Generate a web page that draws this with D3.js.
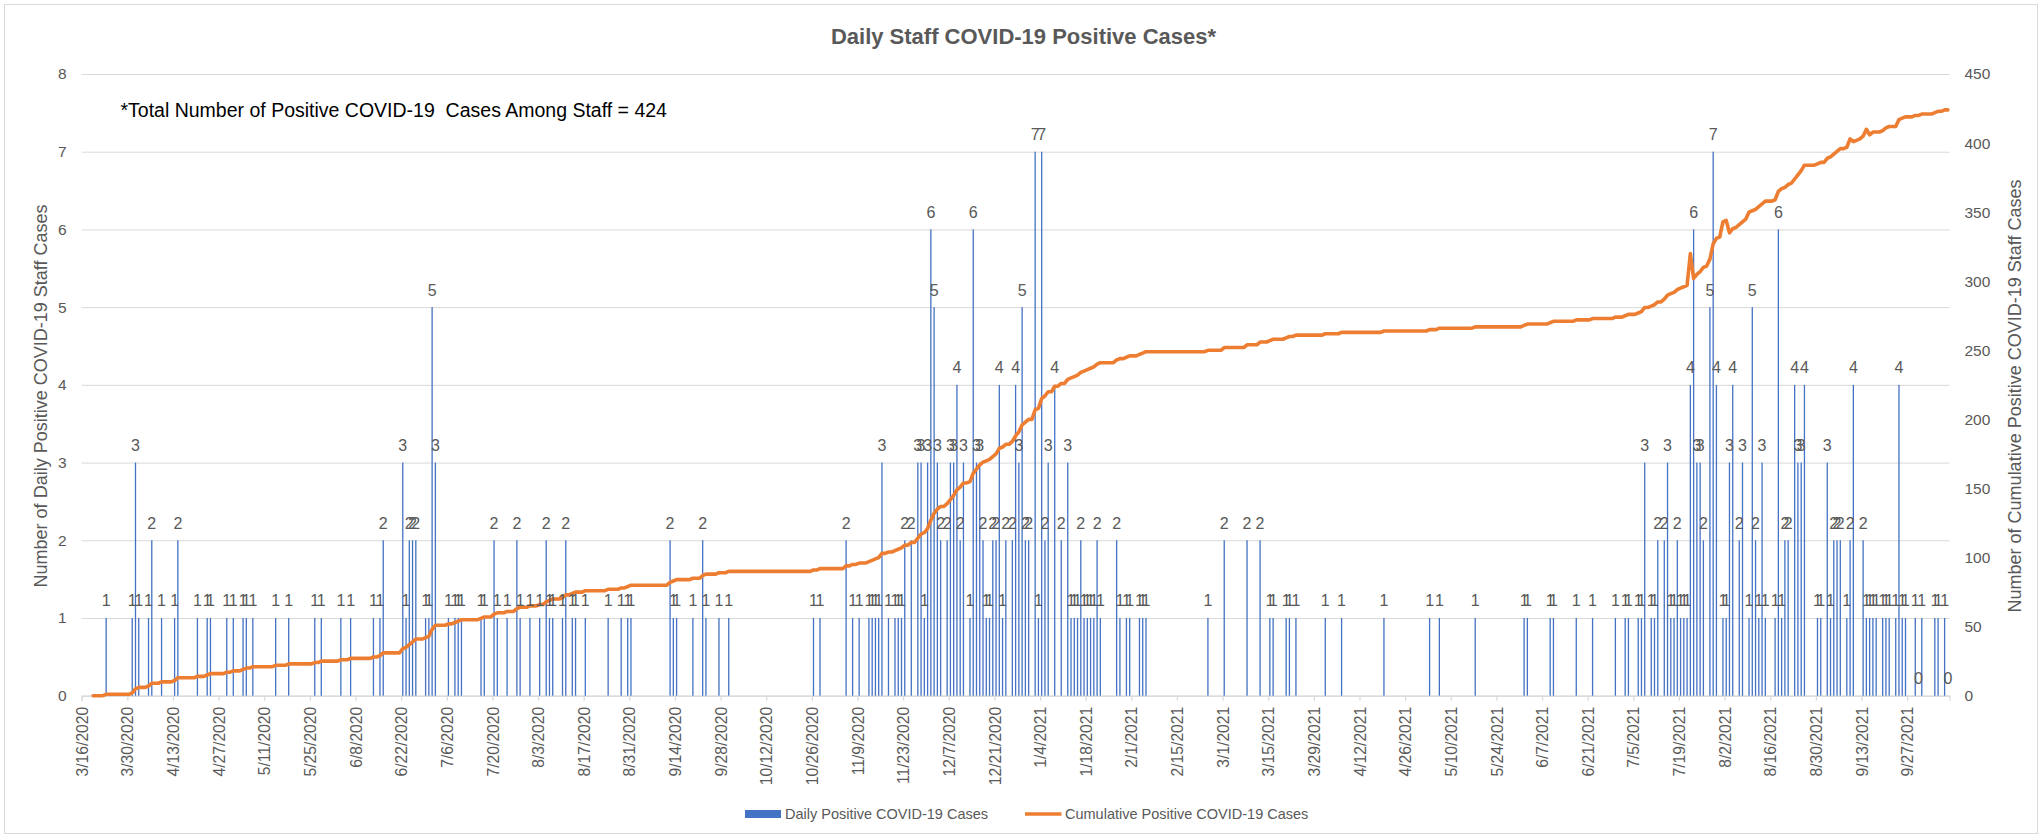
<!DOCTYPE html>
<html>
<head>
<meta charset="utf-8">
<script src="https://cdn.jsdelivr.net/npm/d3@7"></script>
<style>
html, body { margin: 0; padding: 0; background: #ffffff; }
svg { display: block; font-family: "Liberation Sans", Arial, sans-serif; }
</style>
</head>
<body>
<svg id="chart" width="2041" height="838"></svg>
<script>
// ---------------- DATA ----------------
const startDate = "3/16/2020";   // first day of the date axis
const endDate = "10/10/2021";    // last day of the date axis

const chartTitle = "Daily Staff COVID-19 Positive Cases*";
const noteText = "*Total Number of Positive COVID-19  Cases Among Staff = 424";
const leftAxisTitle = "Number of Daily Positive COVID-19 Staff Cases";
const rightAxisTitle = "Number of Cumulative Positive COVID-19 Staff Cases";
const seriesNames = ["Daily Positive COVID-19 Cases", "Cumulative Positive COVID-19 Cases"];

// day offsets (days since 3/16/2020) of the days with a reported case count
const caseDay = [
  7,15,16,17,20,21,24,28,29,35,
  38,39,44,46,49,50,52,59,63,71,
  73,79,82,89,91,92,98,99,100,101,
  102,105,106,107,108,112,114,115,116,
  122,123,126,127,130,133,134,137,140,142,
  143,144,147,148,150,151,154,161,165,167,
  168,180,181,182,187,190,191,195,198,224,
  226,234,236,238,
  241,242,243,244,245,247,249,250,251,252,
  254,256,257,258,259,260,261,262,263,265,
  266,267,268,269,270,272,273,274,275,276,
  277,278,279,280,281,282,283,285,286,287,
  288,289,290,292,293,294,295,296,298,300,
  302,303,304,305,306,307,308,309,310,311,
  312,317,318,320,321,324,325,326,
  345,350,357,361,364,365,369,370,372,381,
  386,399,413,416,427,442,443,450,451,458,
  463,470,473,474,477,478,479,481,482,483,
  485,486,487,488,489,490,491,492,493,494,
  495,496,497,499,500,501,503,504,505,506,
  508,509,511,512,513,514,515,516,
  519,520,521,522,523,525,526,527,528,532,
  533,535,536,537,538,539,541,542,543,546,
  547,548,549,550,552,553,554,556,557,558,
  559,562,563,564,568,569,571,572
];
const dailyCases = [
  1,1,3,1,1,2,1,1,2,1,
  1,1,1,1,1,1,1,1,1,1,
  1,1,1,1,1,2,3,1,2,2,
  2,1,1,5,3,1,1,1,1,
  1,1,2,1,1,2,1,1,1,2,
  1,1,1,2,1,1,1,1,1,1,
  1,2,1,1,1,2,1,1,1,1,
  1,2,1,1,
  1,1,1,1,3,1,1,1,1,2,
  2,3,3,1,3,6,5,3,2,2,
  3,3,4,2,3,1,6,3,3,2,
  1,1,2,2,4,1,2,2,4,3,
  5,2,2,7,1,7,2,3,4,2,
  3,1,1,1,2,1,1,1,1,2,
  1,2,1,1,1,1,1,1,
  1,2,2,2,1,1,1,1,1,1,
  1,1,1,1,1,1,1,1,1,1,
  1,1,1,1,1,1,3,1,1,2,
  2,3,1,1,2,1,1,1,4,6,
  3,3,2,5,7,4,1,1,3,4,
  2,3,1,5,2,1,3,1,
  1,6,1,2,2,4,3,3,4,1,
  1,3,1,2,2,2,1,2,4,2,
  1,1,1,1,1,1,1,1,4,1,
  1,1,0,1,1,1,1,0
];

// cumulative line vertices (day offset, cumulative count)
const cumDay = [
  3,6,7,14,15,16,17,19,20,21, 23,24,27,28,29,34,35,37,38,39,
  43,44,45,46,48,49,50,51,52,58, 59,62,63,70,71,72,73,78,79,81,
  82,88,89,90,91,92,97,98,99,100, 101,102,104,105,106,107,108,111,112,113,
  114,115,116,
  121,122,123,125,126,127,129,130,132,133, 134,136,137,139,140,141,142,143,144,146,
  147,148,149,150,151,153,154,160,161,164, 165,166,167,168,179,180,181,182,186,187,
  189,190,191,194,195,197,198,223,224,225, 226,233,234,235,236,237,238,
  240,241,242,243,244,245,246,247,248,249, 250,251,252,253,254,255,256,257,258,259,
  260,261,262,263,264,265,266,267,268,269, 270,271,272,273,274,275,276,277,278,279,
  280,281,282,283,284,285,286,287,288,289, 290,291,292,293,294,295,296,297,298,299,
  300,301,302,303,304,305,306,307,308,309, 310,311,312,316,317,318,319,320,321,323,
  324,325,326,
  344,345,349,350,356,357,360,361,363,364, 365,368,369,370,371,372,380,381,385,386,
  398,399,412,413,415,416,426,427,441,442, 443,449,450,451,457,458,
  462,463,469,470,472,473,474,476,477,478, 479,480,481,482,483,484,485,486,487,488,
  489,490,491,492,493,494,495,496,497,498, 499,500,501,502,503,504,505,506,507,508,
  509,510,511,512,513,514,515,516,
  518,519,520,521,522,523,524,525,526,527, 528,531,532,533,534,535,536,537,538,539,
  540,541,542,543,544,545,546,547,548,549, 550,551,552,553,554,555,556,557,558,559,
  561,562,563,564,567,568,569,570,571,572
];
const cumulativeCases = [
  0,0,1,1,2,5,6,6,7,9, 9,10,10,11,13,13,14,14,15,16,
  16,17,17,18,18,19,20,20,21,21, 22,22,23,23,24,24,25,25,26,26,
  27,27,28,28,29,31,31,34,35,37, 39,41,41,42,43,48,51,51,52,52,
  53,54,55,
  55,56,57,57,59,60,60,61,61,63, 64,64,65,65,66,66,68,69,70,70,
  71,73,73,74,75,75,76,76,77,77, 78,78,79,80,80,82,83,84,84,85,
  85,87,88,88,89,89,90,90,91,91, 92,92,94,94,95,95,96,
  96,97,98,99,100,103,103,104,104,105, 106,107,109,109,111,111,114,117,118,121,
  127,132,135,137,137,139,142,145,149,151, 154,154,155,161,164,167,169,170,171,173,
  175,179,180,182,182,184,188,191,196,198, 200,200,207,208,215,217,220,220,224,224,
  226,226,229,230,231,232,234,235,236,237, 238,240,241,241,243,244,244,245,246,246,
  247,248,249,
  249,250,250,252,252,254,254,256,256,257, 258,258,259,260,260,261,261,262,262,263,
  263,264,264,265,265,266,266,267,267,268, 269,269,270,271,271,272,
  272,273,273,274,274,275,276,276,277,278, 281,281,282,283,285,285,287,290,291,292,
  294,295,296,297,320,302,305,307,310,311, 316,327,331,332,343,344,335,338,339,341,
  343,345,350,351,352,354,356,358,
  358,359,365,367,368,370,371,374,377,380, 384,384,385,386,386,389,390,392,394,396,
  396,397,403,401,402,403,405,410,406,408, 408,408,409,411,412,412,412,417,418,419,
  419,420,420,421,421,422,423,423,424,424
];

const tickLabels = [
  "3/16/2020","3/30/2020","4/13/2020","4/27/2020","5/11/2020","5/25/2020","6/8/2020",
  "6/22/2020","7/6/2020","7/20/2020","8/3/2020","8/17/2020","8/31/2020","9/14/2020",
  "9/28/2020","10/12/2020","10/26/2020","11/9/2020","11/23/2020","12/7/2020","12/21/2020",
  "1/4/2021","1/18/2021","2/1/2021","2/15/2021","3/1/2021","3/15/2021","3/29/2021",
  "4/12/2021","4/26/2021","5/10/2021","5/24/2021","6/7/2021","6/21/2021","7/5/2021",
  "7/19/2021","8/2/2021","8/16/2021","8/30/2021","9/13/2021","9/27/2021"
];
const leftTicks = [0,1,2,3,4,5,6,7,8];
const rightTicks = [0,50,100,150,200,250,300,350,400,450];

// ---------------- LAYOUT / STYLE ----------------
const W = 2041, H = 838;
const plotL = 81.7, plotR = 1949.5, plotB = 695.7, plotT = 74;
const barColor = "#4472C4", lineColor = "#ED7D31";
const textColor = "#595959", gridColor = "#D9D9D9";

const svg = d3.select("#chart");
const parse = d3.utcParse("%m/%d/%Y");
const t0 = parse(startDate), t1 = parse(endDate);

const x = d3.scaleUtc().domain([t0, t1]).range([plotL, plotR]);
const dayW = x(d3.utcDay.offset(t0, 1)) - x(t0);
const yL = d3.scaleLinear().domain([0, 8]).range([plotB, plotT]);
const yR = d3.scaleLinear().domain([0, 450]).range([plotB, plotT]);
const dayX = d => x(d3.utcDay.offset(t0, d)) + dayW / 2;

// background + chart border
svg.append("rect").attr("x", 0).attr("y", 0).attr("width", W).attr("height", H).attr("fill", "#fff");
svg.append("rect").attr("x", 4.5).attr("y", 4.5).attr("width", 2033).attr("height", 829)
  .attr("fill", "none").attr("stroke", gridColor).attr("stroke-width", 1);

// gridlines
const grid = svg.append("g").attr("transform", `translate(${plotL},0)`)
  .call(d3.axisLeft(yL).tickValues(leftTicks).tickSize(-(plotR - plotL)).tickFormat(""));
grid.select(".domain").remove();
grid.selectAll(".tick line").attr("stroke", gridColor).attr("stroke-width", 1);

// left axis labels
const gL = svg.append("g").attr("transform", `translate(${plotL},0)`)
  .call(d3.axisLeft(yL).tickValues(leftTicks).tickSize(0).tickPadding(15).tickFormat(d3.format("d")));
gL.select(".domain").remove();
gL.selectAll("text").attr("fill", textColor).attr("font-size", 15.5)
  .attr("font-family", "Liberation Sans, Arial, sans-serif");

// right axis labels
const gR = svg.append("g").attr("transform", `translate(${plotR},0)`)
  .call(d3.axisRight(yR).tickValues(rightTicks).tickSize(0).tickPadding(15).tickFormat(d3.format("d")));
gR.select(".domain").remove();
gR.selectAll("text").attr("fill", textColor).attr("font-size", 15.5)
  .attr("font-family", "Liberation Sans, Arial, sans-serif");

// x axis
const tickDates = tickLabels.map(parse);
const labelOf = new Map(tickDates.map((d, i) => [+d, tickLabels[i]]));
const gX = svg.append("g").attr("transform", `translate(0,${plotB})`)
  .call(d3.axisBottom(x).tickValues(tickDates).tickSize(5).tickFormat(d => labelOf.get(+d)));
gX.select(".domain").attr("stroke", gridColor).attr("stroke-width", 1.2);
gX.selectAll(".tick line").attr("stroke", gridColor).attr("stroke-width", 1.2);
gX.selectAll("text")
  .attr("fill", textColor).attr("font-size", 15.7)
  .attr("font-family", "Liberation Sans, Arial, sans-serif")
  .attr("transform", "rotate(-90)")
  .attr("text-anchor", "end")
  .attr("x", -11).attr("y", 0).attr("dy", "0.36em");

// bars
const bars = caseDay.map((d, i) => ({ day: d, value: dailyCases[i] }));
svg.append("g").selectAll("rect").data(bars).join("rect")
  .attr("x", d => dayX(d.day) - 0.65)
  .attr("width", 1.3)
  .attr("y", d => yL(d.value))
  .attr("height", d => yL(0) - yL(d.value))
  .attr("fill", barColor);

// cumulative line
const cum = cumDay.map((d, i) => ({ day: d, value: cumulativeCases[i] }));
svg.append("path").datum(cum)
  .attr("d", d3.line().x(d => dayX(d.day)).y(d => yR(d.value)))
  .attr("fill", "none").attr("stroke", lineColor).attr("stroke-width", 3.6)
  .attr("stroke-linejoin", "round").attr("stroke-linecap", "round");

// data labels
svg.append("g").selectAll("text").data(bars).join("text")
  .attr("x", d => dayX(d.day))
  .attr("y", d => yL(d.value) - 11.5)
  .attr("text-anchor", "middle")
  .attr("font-size", 16)
  .attr("fill", textColor)
  .text(d => d.value);

// title
svg.append("text").attr("x", 1023.5).attr("y", 43.5).attr("text-anchor", "middle")
  .attr("font-size", 22).attr("font-weight", "bold").attr("fill", textColor).text(chartTitle);

// note (keeps the double space of the original)
svg.append("text").attr("x", 120.5).attr("y", 116.5)
  .attr("font-size", 19.5).attr("fill", "#000")
  .attr("xml:space", "preserve").style("white-space", "pre")
  .text(noteText);

// axis titles
svg.append("text").attr("transform", "translate(41,396) rotate(-90)")
  .attr("text-anchor", "middle").attr("dy", "0.35em")
  .attr("font-size", 18).attr("fill", textColor).text(leftAxisTitle);
svg.append("text").attr("transform", "translate(2015,396) rotate(-90)")
  .attr("text-anchor", "middle").attr("dy", "0.35em")
  .attr("font-size", 18).attr("fill", textColor).text(rightAxisTitle);

// legend
const lg = svg.append("g");
lg.append("rect").attr("x", 745).attr("y", 810).attr("width", 36).attr("height", 8).attr("fill", barColor);
lg.append("text").attr("x", 785).attr("y", 814).attr("dy", "0.35em")
  .attr("font-size", 14.5).attr("fill", textColor).text(seriesNames[0]);
lg.append("line").attr("x1", 1025).attr("x2", 1061.5).attr("y1", 814).attr("y2", 814)
  .attr("stroke", lineColor).attr("stroke-width", 3.6);
lg.append("text").attr("x", 1065).attr("y", 814).attr("dy", "0.35em")
  .attr("font-size", 14.5).attr("fill", textColor).text(seriesNames[1]);
</script>
</body>
</html>
